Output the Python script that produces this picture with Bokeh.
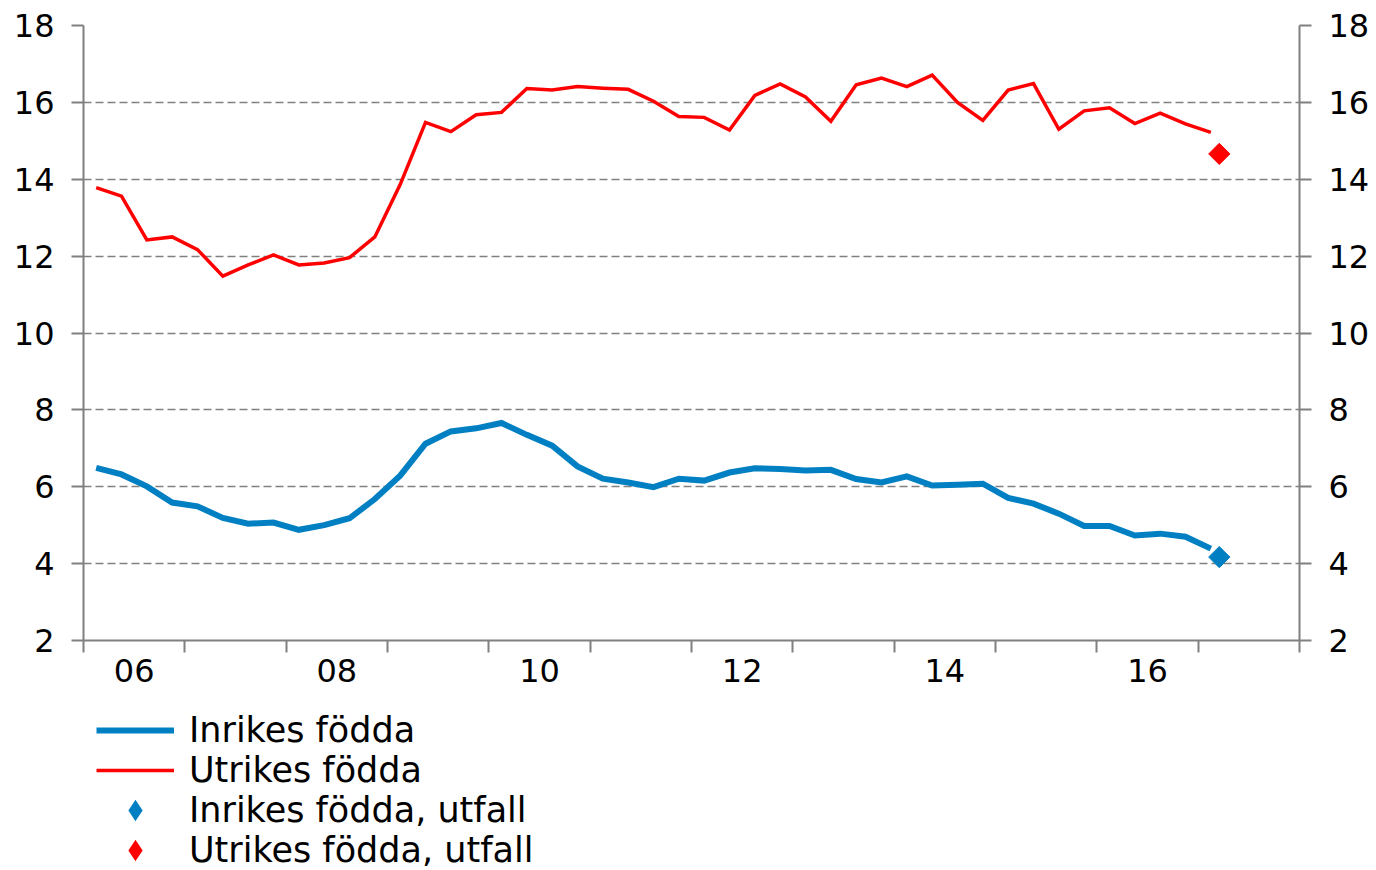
import numpy as np
from bokeh.plotting import figure
from bokeh.layouts import column
from bokeh.models import (LinearAxis, FixedTicker, Range1d, Legend, LegendItem,
                          ColumnDataSource)
from bokeh.embed import file_html
from bokeh.resources import INLINE

# ---------------- data ----------------
years = list(range(2006, 2018))
quarters = [f"{y}K{q}" for y in range(2006, 2017) for q in range(1, 5)] + ["2017K1"]

inrikes = [6.49, 6.32, 6.01, 5.59,
           5.49, 5.19, 5.04, 5.07,
           4.88, 5.00, 5.18, 5.68,
           6.29, 7.12, 7.44, 7.52,
           7.66, 7.35, 7.07, 6.53,
           6.21, 6.11, 5.99, 6.21,
           6.16, 6.37, 6.48, 6.46,
           6.42, 6.44, 6.20, 6.11,
           6.27, 6.03, 6.05, 6.08,
           5.71, 5.56, 5.30, 4.98,
           4.98, 4.73, 4.78, 4.70,
           4.39]

utrikes = [13.78, 13.56, 12.42, 12.50,
           12.17, 11.48, 11.77, 12.03,
           11.77, 11.82, 11.96, 12.50,
           13.86, 15.48, 15.24, 15.68,
           15.74, 16.36, 16.32, 16.41,
           16.37, 16.34, 16.03, 15.63,
           15.61, 15.28, 16.18, 16.48,
           16.14, 15.51, 16.46, 16.63,
           16.41, 16.71, 16.00, 15.53,
           16.32, 16.49, 15.30, 15.78,
           15.86, 15.45, 15.72, 15.44,
           15.22]

utfall_month = ["2017-03"]
inrikes_utfall = [4.17]
utrikes_utfall = [14.66]

x_tick_years = [2006, 2008, 2010, 2012, 2014, 2016]
x_tick_labels = ["06", "08", "10", "12", "14", "16"]
y_ticks = [2, 4, 6, 8, 10, 12, 14, 16, 18]

labels = ["Inrikes födda", "Utrikes födda",
          "Inrikes födda, utfall", "Utrikes födda, utfall"]

# ---------------- helpers ----------------
def q_to_x(s):
    y, q = s.split("K")
    return int(y) + (int(q) - 0.5) / 4.0

def m_to_x(s):
    y, m = s.split("-")
    return int(y) + (int(m) - 0.5) / 12.0

xq = [q_to_x(s) for s in quarters]
xm = [m_to_x(s) for s in utfall_month]

BLUE = "#0080C3"
RED = "#FF0000"
GRAY = "#808080"
FONT = "DejaVu Sans"

src = ColumnDataSource(dict(x=xq, inrikes=inrikes, utrikes=utrikes))
src_u = ColumnDataSource(dict(x=xm, inrikes=inrikes_utfall, utrikes=utrikes_utfall))

p = figure(width=1376, height=700,
           x_range=Range1d(years[0], years[-1] + 1), y_range=Range1d(2, 18),
           output_backend="svg", toolbar_location=None,
           min_border_left=83, min_border_right=77,
           min_border_top=25, min_border_bottom=60)
p.outline_line_color = None
p.background_fill_color = "white"
p.border_fill_color = "white"

# grid
p.xgrid.visible = False
p.ygrid.ticker = FixedTicker(ticks=y_ticks)
p.ygrid.grid_line_color = GRAY
p.ygrid.grid_line_dash = "8 4"
p.ygrid.grid_line_width = 1.6

# x axis: labels between year ticks
xa = p.xaxis[0]
xa.ticker = FixedTicker(ticks=[y + 0.5 for y in x_tick_years],
                        minor_ticks=[float(y) for y in years] + [float(years[-1] + 1)])
xa.major_label_overrides = {y + 0.5: lab for y, lab in zip(x_tick_years, x_tick_labels)}
xa.major_tick_line_color = None
xa.major_tick_out = 12
xa.major_tick_in = 0
xa.minor_tick_line_color = GRAY
xa.minor_tick_line_width = 2
xa.minor_tick_out = 12
xa.minor_tick_in = 0
xa.axis_line_color = GRAY
xa.axis_line_width = 2
xa.major_label_standoff = 6
xa.major_label_text_font = FONT
xa.major_label_text_font_size = "32px"
xa.major_label_text_color = "black"


def style_y(ax):
    ax.ticker = FixedTicker(ticks=y_ticks)
    ax.axis_line_color = GRAY
    ax.axis_line_width = 2
    ax.major_tick_line_color = GRAY
    ax.major_tick_line_width = 2
    ax.major_tick_out = 12
    ax.major_tick_in = 0
    ax.minor_tick_line_color = None
    ax.major_label_standoff = 17
    ax.major_label_text_font = FONT
    ax.major_label_text_font_size = "32px"
    ax.major_label_text_color = "black"


style_y(p.yaxis[0])
ry = LinearAxis()
style_y(ry)
p.add_layout(ry, "right")

# series
line_in = dict(line_color=BLUE, line_width=6, line_join="miter")
line_ut = dict(line_color=RED, line_width=3.5, line_join="miter")
mk_in = dict(marker="square", size=15, angle=np.pi / 4, fill_color=BLUE, line_color=BLUE)
mk_ut = dict(marker="square", size=15, angle=np.pi / 4, fill_color=RED, line_color=RED)

p.line("x", "inrikes", source=src, **line_in)
p.line("x", "utrikes", source=src, **line_ut)
p.scatter("x", "inrikes", source=src_u, **mk_in)
p.scatter("x", "utrikes", source=src_u, **mk_ut)

# ---------------- legend panel (same series, view range left empty) ----------------
lg = figure(width=1376, height=170, x_range=Range1d(0, 1), y_range=Range1d(0, 1),
            output_backend="svg", toolbar_location=None,
            x_axis_location=None, y_axis_location=None,
            min_border_left=0, min_border_right=0, min_border_top=0,
            min_border_bottom=0)
lg.grid.visible = False
lg.outline_line_color = None
lg.border_fill_color = "white"
lg.background_fill_color = "white"
g1 = lg.line("x", "inrikes", source=src, **line_in)
g2 = lg.line("x", "utrikes", source=src, **line_ut)
# legend markers are drawn unrotated, so use the diamond marker there
g3 = lg.scatter("x", "inrikes", source=src_u, marker="diamond", size=15,
                fill_color=BLUE, line_color=BLUE, line_width=3, line_join="miter")
g4 = lg.scatter("x", "utrikes", source=src_u, marker="diamond", size=15,
                fill_color=RED, line_color=RED, line_width=3, line_join="miter")

legend = Legend(items=[LegendItem(label=labels[0], renderers=[g1]),
                       LegendItem(label=labels[1], renderers=[g2]),
                       LegendItem(label=labels[2], renderers=[g3]),
                       LegendItem(label=labels[3], renderers=[g4])],
                location=(13, 0), orientation="vertical",
                label_text_font=FONT, label_text_font_size="35px",
                label_text_color="black",
                glyph_width=78, glyph_height=40, label_height=40,
                spacing=0, padding=0, margin=0, label_standoff=15,
                border_line_color=None, background_fill_alpha=0)
lg.add_layout(legend)

layout = column(p, lg, spacing=0)
open("out.html", "w").write(file_html(layout, INLINE))
